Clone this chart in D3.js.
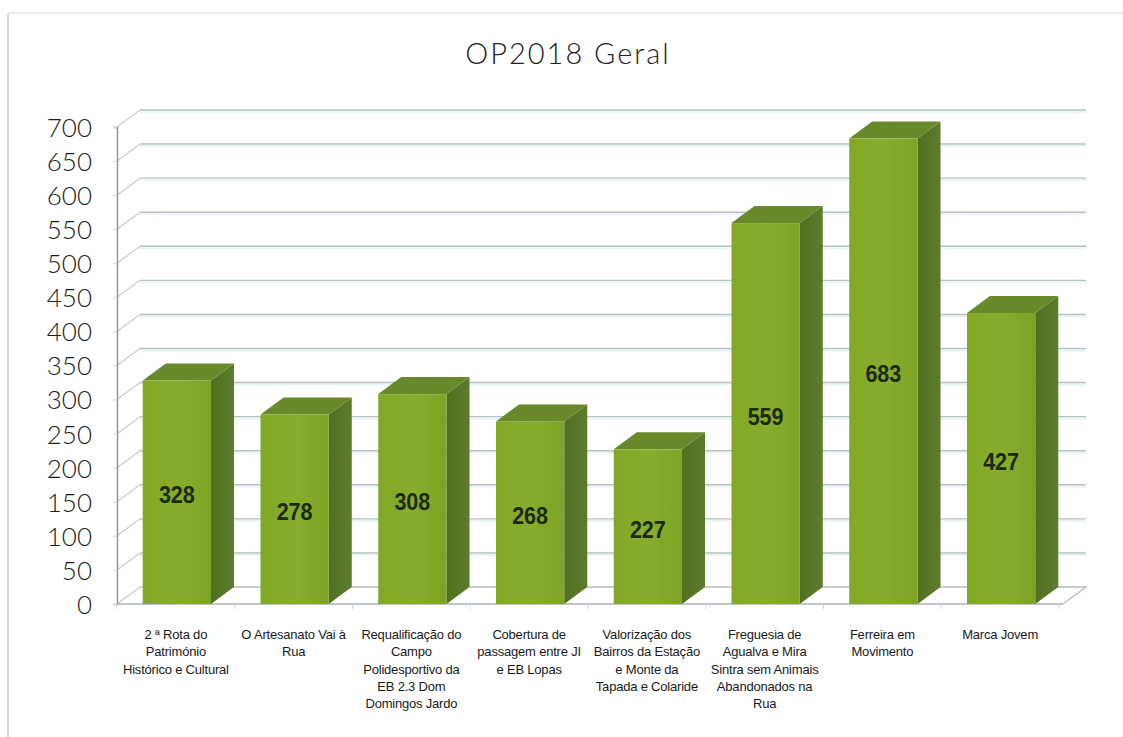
<!DOCTYPE html>
<html><head><meta charset="utf-8">
<script src="https://cdn.jsdelivr.net/npm/d3@7/dist/d3.min.js"></script>
<style>html,body{margin:0;padding:0;background:#fff;overflow:hidden}svg{display:block}</style>
</head><body><div id="chart"></div>
<script>
const chartTitle = "OP2018 Geral";
const categories = [
  ["2 ª Rota do","Património","Histórico e Cultural"],
  ["O Artesanato Vai à","Rua"],
  ["Requalificação do","Campo","Polidesportivo da","EB 2.3 Dom","Domingos Jardo"],
  ["Cobertura de","passagem entre JI","e EB Lopas"],
  ["Valorização dos","Bairros da Estação","e Monte da","Tapada e Colaride"],
  ["Freguesia de","Agualva e Mira","Sintra sem Animais","Abandonados na","Rua"],
  ["Ferreira em","Movimento"],
  ["Marca Jovem"]
];
const values = [328,278,308,268,227,559,683,427];
const yTicks = [0,50,100,150,200,250,300,350,400,450,500,550,600,650,700];

const W=1123,H=737, depthX=23, depthY=-17;
const svg=d3.select("#chart").append("svg").attr("width",W).attr("height",H);
const defs=svg.append("defs");
const g1=defs.append("linearGradient").attr("id","front").attr("x1",0).attr("x2",1).attr("y1",0).attr("y2",0);
g1.append("stop").attr("offset","0").attr("stop-color","#82a826");
g1.append("stop").attr("offset","0.5").attr("stop-color","#88ac2b");
g1.append("stop").attr("offset","1").attr("stop-color","#7ea325");
const g2=defs.append("linearGradient").attr("id","side").attr("x1",0).attr("x2",1).attr("y1",0).attr("y2",0);
g2.append("stop").attr("offset","0").attr("stop-color","#516f23");
g2.append("stop").attr("offset","1").attr("stop-color","#5d7c2b");

const x=d3.scaleBand().domain(d3.range(categories.length)).range([118,1060]).paddingInner(0.42).paddingOuter(0.21);
const y=d3.scaleLinear().domain([0,700]).range([604,127]);
const x0=117, x1=1063;

// frame
svg.append("line").attr("x1",8).attr("x2",8).attr("y1",14).attr("y2",737).attr("stroke","#d4d4d4").attr("stroke-width",2);
svg.append("line").attr("x1",8).attr("x2",1123).attr("y1",13).attr("y2",13).attr("stroke","#e2e2e2").attr("stroke-width",1.5);

svg.append("text").attr("x",568).attr("y",64).attr("text-anchor","middle")
  .style("font-family","'Lato','Open Sans',sans-serif").style("font-weight",300).style("font-size","29px").style("letter-spacing","2px")
  .attr("fill","#222").text(chartTitle);

// gridlines on back and side walls
const grid=svg.append("g");
grid.selectAll(".tint").data(yTicks.slice(1)).join("line").attr("class","tint")
  .attr("x1",x0+depthX).attr("x2",x1+depthX).attr("y1",d=>y(d)+depthY+2).attr("y2",d=>y(d)+depthY+2)
  .attr("stroke","#e8f5f7").attr("stroke-width",2);
grid.selectAll(".back").data(yTicks.slice(1)).join("line").attr("class","back")
  .attr("x1",x0+depthX).attr("x2",x1+depthX).attr("y1",d=>y(d)+depthY).attr("y2",d=>y(d)+depthY)
  .attr("stroke","#babfc1").attr("stroke-width",1.4);
grid.selectAll(".wall").data(yTicks).join("line").attr("class","wall")
  .attr("x1",x0).attr("x2",x0+depthX).attr("y1",d=>y(d)).attr("y2",d=>y(d)+depthY)
  .attr("stroke","#c8ccce").attr("stroke-width",1.2);
// floor
grid.append("path").attr("fill","none").attr("stroke","#b8bdbf").attr("stroke-width",1.4)
  .attr("d",`M${x0+depthX},${y(0)+depthY}L${x1+depthX},${y(0)+depthY}L${x1},${y(0)}`);
// axes
const yAxis=d3.axisLeft(y).tickValues(yTicks).tickSize(4).tickPadding(21);
const ya=svg.append("g").attr("transform",`translate(${x0},0)`).call(yAxis);
ya.select(".domain").attr("stroke","#8f979b").attr("stroke-width",1.5);
ya.selectAll(".tick line").attr("stroke","#d8d8d8");
ya.selectAll("text").style("font-family","'Lato','Open Sans',sans-serif").style("font-weight",300)
  .style("font-size","26px").attr("fill","#1c1c1c").attr("dy","0.36em");
const xa=svg.append("g").attr("transform",`translate(0,${y(0)})`);
xa.append("line").attr("x1",x0).attr("x2",x1).attr("stroke","#a9b2bc").attr("stroke-width",1.5);
xa.selectAll(".t").data(d3.range(categories.length+1)).join("line").attr("class","t")
  .attr("x1",i=>x0+i*x.step()).attr("x2",i=>x0+i*x.step())
  .attr("y1",0).attr("y2",5).attr("stroke","#d4d7da");

// bars
const bars=svg.append("g").selectAll("g").data(values).join("g");
const bw=x.bandwidth();
bars.append("path").attr("fill","url(#side)")
  .attr("d",(d,i)=>`M${x(i)+bw},${y(d)}L${x(i)+bw+depthX},${y(d)+depthY}L${x(i)+bw+depthX},${y(0)+depthY}L${x(i)+bw},${y(0)}Z`);
bars.append("path").attr("fill","#688a2b")
  .attr("d",(d,i)=>`M${x(i)},${y(d)}L${x(i)+depthX},${y(d)+depthY}L${x(i)+bw+depthX},${y(d)+depthY}L${x(i)+bw},${y(d)}Z`);
bars.append("rect").attr("fill","url(#front)")
  .attr("x",(d,i)=>x(i)).attr("width",bw).attr("y",d=>y(d)).attr("height",d=>y(0)-y(d));
bars.append("text").attr("x",(d,i)=>x(i)+bw/2).attr("y",d=>(y(d)+y(0))/2+11).attr("text-anchor","middle")
  .attr("textLength",36).attr("lengthAdjust","spacingAndGlyphs")
  .style("font-family","'Liberation Sans',sans-serif").style("font-weight",700).style("font-size","24px")
  .attr("fill","#1c2a10").text(d=>d);

// category labels
const cat=svg.append("g").selectAll("text").data(categories).join("text")
  .attr("text-anchor","middle")
  .style("font-family","'Liberation Sans',sans-serif").style("font-size","13px").style("letter-spacing","-0.2px").attr("fill","#1a1a1a");
cat.each(function(lines,i){
  const cx=x(i)+bw/2-1;
  d3.select(this).selectAll("tspan").data(lines).join("tspan")
    .attr("x",cx).attr("y",(l,j)=>639+j*17.3).text(l=>l);
});
</script></body></html>
